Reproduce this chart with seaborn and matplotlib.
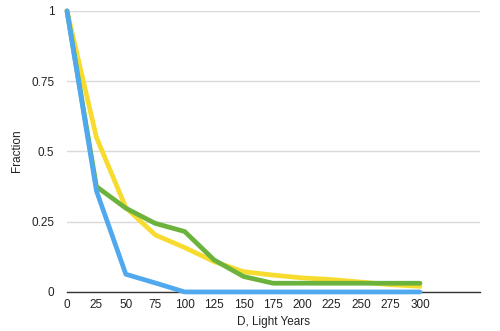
import matplotlib
matplotlib.use("Agg")
import matplotlib.pyplot as plt
import seaborn as sns
import pandas as pd

distance = [0, 25, 50, 75, 100, 125, 150, 175, 200, 225, 250, 275, 300]
yellow = [1.0, 0.55, 0.30, 0.203, 0.158, 0.108, 0.072, 0.06, 0.05, 0.044, 0.035, 0.026, 0.02]
green = [1.0, 0.375, 0.298, 0.244, 0.215, 0.114, 0.055, 0.031, 0.031, 0.031, 0.031, 0.031, 0.031]
blue = [1.0, 0.36, 0.063, 0.032, 0.0, 0.0, 0.0, 0.0, 0.0, 0.0, 0.0, 0.0, 0.0]
y_ticks = [0, 0.25, 0.5, 0.75, 1]
y_tick_labels = ["0", "0.25", "0.5", "0.75", "1"]

sns.set_style("white")
plt.rcParams['font.family'] = ['Liberation Sans', 'DejaVu Sans']

df = pd.DataFrame({"D": distance * 3,
                   "Fraction": yellow + green + blue,
                   "series": ["yellow"] * 13 + ["green"] * 13 + ["blue"] * 13})

fig = plt.figure(figsize=(5, 3.31), dpi=100)
ax = fig.add_axes([0.134, 0.118, 0.826, 0.849])

palette = {"yellow": "#F7DC2F", "green": "#6BB33C", "blue": "#50A9EE"}
sns.lineplot(data=df, x="D", y="Fraction", hue="series", palette=palette,
             linewidth=3.4, ax=ax, legend=False, clip_on=False, zorder=3)

ax.set_xlim(0, 351)
ax.set_ylim(0, 1)
ax.set_xticks(distance)
ax.set_xticklabels([str(d) for d in distance], fontsize=8.5, color="#222222")
ax.set_yticks(y_ticks)
ax.set_yticklabels(y_tick_labels, fontsize=8.5, color="#222222")
ax.tick_params(axis="both", length=0)
ax.tick_params(axis="x", pad=5)
ax.tick_params(axis="y", pad=9)
ax.grid(axis="y", color="#d9d9d9", linewidth=1)
ax.grid(axis="x", visible=False)
for s in ["top", "right", "left"]:
    ax.spines[s].set_visible(False)
ax.spines["bottom"].set_color("#333333")
ax.spines["bottom"].set_linewidth(1)
ax.set_xlabel("D, Light Years", fontsize=8.5, color="#222222")
ax.set_ylabel("Fraction", fontsize=8.5, color="#222222")
ax.xaxis.set_label_coords(0.5, -0.085)
ax.yaxis.set_label_coords(-0.107, 0.504)

fig.savefig("out.png", dpi=100)
